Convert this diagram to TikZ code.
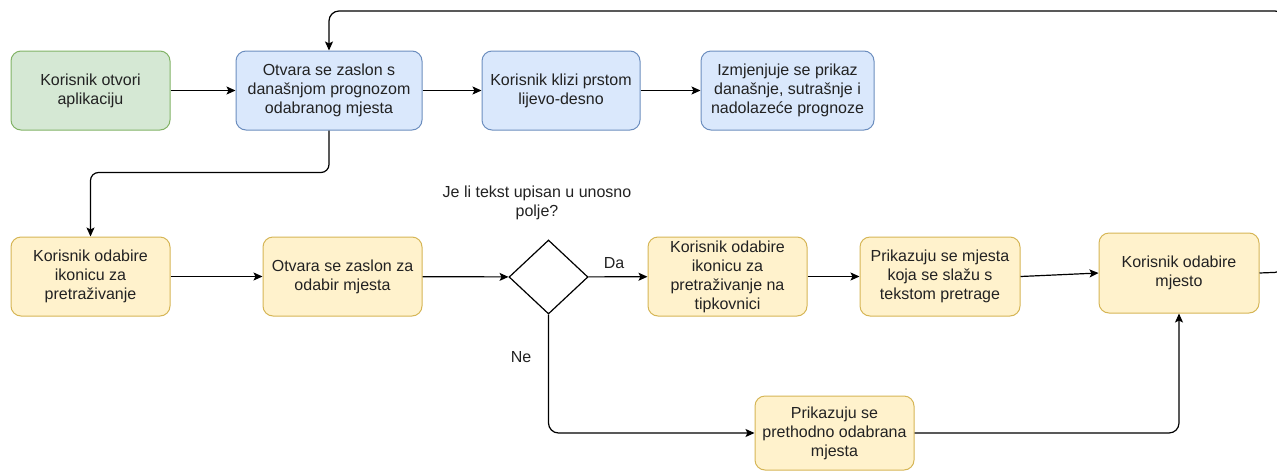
\documentclass[tikz,border=0pt]{standalone}
\usepackage{fontspec}
\setmainfont{Liberation Sans}
\usetikzlibrary{arrows.meta,shapes.geometric}
\definecolor{gfill}{HTML}{D5E8D4}\definecolor{gdraw}{HTML}{82B366}
\definecolor{bfill}{HTML}{DAE8FC}\definecolor{bdraw}{HTML}{6C8EBF}
\definecolor{yfill}{HTML}{FFF2CC}\definecolor{ydraw}{HTML}{D6B656}
\definecolor{txt}{HTML}{222222}
\begin{document}
\begin{tikzpicture}[x=1pt,y=-1pt,
  every node/.style={font=\fontsize{16}{19}\selectfont, text=txt},
  box/.style={rectangle, rounded corners=10pt, align=center, inner sep=0pt, line width=1pt, minimum height=79pt},
  gbox/.style={box, fill=gfill, draw=gdraw},
  bbox/.style={box, fill=bfill, draw=bdraw},
  ybox/.style={box, fill=yfill, draw=ydraw},
  arr/.style={draw=black, line width=1.2pt, -{Stealth[length=9pt,width=8pt,inset=2pt]}},
  lbl/.style={align=center, inner sep=0pt}]
\useasboundingbox (0,0) rectangle (1277,472);
\fill[white] (0,0) rectangle (1277,472);

\node[gbox, minimum width=159pt] (A) at (90.5,90.5) {Korisnik otvori\\aplikaciju};
\node[bbox, minimum width=186pt] (B) at (329,90.5) {Otvara se zaslon s\\današnjom prognozom\\odabranog mjesta};
\node[bbox, minimum width=158pt] (C) at (561,90.5) {Korisnik klizi prstom\\lijevo-desno};
\node[bbox, minimum width=173pt] (D) at (787.5,90.5) {Izmjenjuje se prikaz\\današnje, sutrašnje i\\nadolazeće prognoze};

\node[ybox, minimum width=159pt] (E) at (90.5,276.5) {Korisnik odabire\\ikonicu za\\pretraživanje};
\node[ybox, minimum width=159pt] (F) at (342.5,276.5) {Otvara se zaslon za\\odabir mjesta};
\node[diamond, draw=black, fill=white, line width=1.2pt, minimum width=79pt, minimum height=74pt, inner sep=0pt] (Q) at (548.5,277) {};
\node[ybox, minimum width=159pt] (G) at (727.5,276.5) {Korisnik odabire\\ikonicu za\\pretraživanje na\\tipkovnici};
\node[ybox, minimum width=160pt] (H) at (940,276.5) {Prikazuju se mjesta\\koja se slažu s\\tekstom pretrage};
\node[ybox, minimum width=160pt, minimum height=80pt] (I) at (1179,273) {Korisnik odabire\\mjesto};
\node[ybox, minimum width=159pt, minimum height=74pt] (J) at (834.5,433) {Prikazuju se\\prethodno odabrana\\mjesta};

\node[lbl] (qt) at (537,203) {Je li tekst upisan u unosno\\polje?};
\node[lbl] (da) at (614,263) {Da};
\node[lbl] (ne) at (521,357) {Ne};

\coordinate (r1) at (1285,272);
\coordinate (r2) at (1285,11);

\draw[arr] (A) -- (B);
\draw[arr] (B) -- (C);
\draw[arr] (C) -- (D);
\draw[arr, rounded corners=8pt] (B.south) -- ++(0,42) -| (E.north);
\draw[arr] (E) -- (F);
\draw[arr] (F) -- (Q);
\draw[arr] (Q) -- (G);
\draw[arr] (G) -- (H);
\draw[arr] (H.east) -- (I.west);
\draw[arr, rounded corners=10pt] (Q.south) |- (J.west);
\draw[arr, rounded corners=10pt] (J.east) -| (I.south);
\draw[arr, rounded corners=10pt] (I.east) -- (r1) -- (r2) -- (B.north |- r2) -- (B.north);
\end{tikzpicture}
\end{document}
